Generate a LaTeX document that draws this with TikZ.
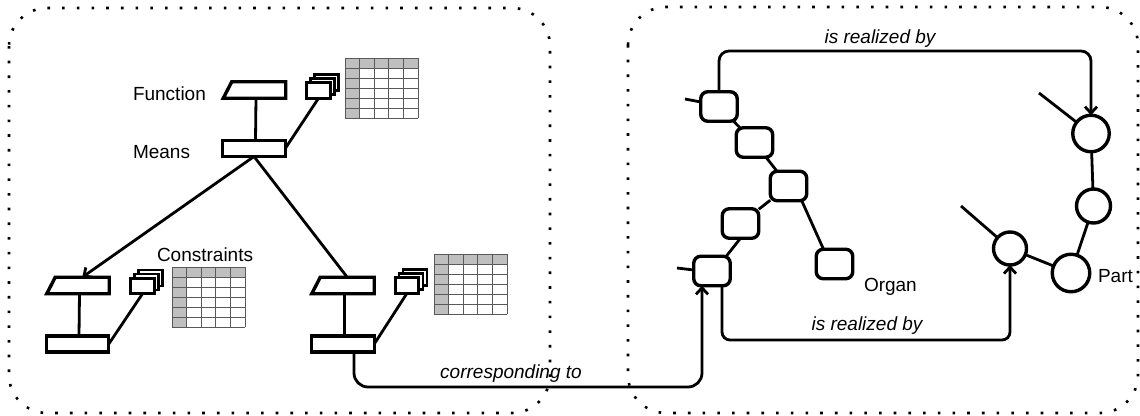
\documentclass[tikz,border=0pt]{standalone}
\usepackage{fontspec}
\setmainfont{Liberation Sans}
\usetikzlibrary{arrows.meta,calc}

\newcommand\gridtab[2]{%
 \begin{scope}[shift={(#1,#2)}]
  \fill[black!25] (0,0) rectangle (73,10);
  \fill[black!25] (0,0) rectangle (14.6,60);
  \foreach \i in {0,...,5}{\draw[tline] (\i*14.6,0) -- (\i*14.6,60);}
  \foreach \j in {0,...,6}{\draw[tline] (0,\j*10) -- (73,\j*10);}
 \end{scope}}

\newcommand\docstack[3]{%
 \draw[docb] (#2-12+8,#3-8-8) rectangle (#2+12+8,#3+8-8);
 \draw[docb] (#2-12+4,#3-8-4) rectangle (#2+12+4,#3+8-4);
 \node[docf] (#1) at (#2,#3) {};}

\newcommand\fnpara[3]{%
 \node[fnbox] (#1) at (#2,#3) {};
 \draw[shp, line join=miter] ([xshift=8.5pt]#1.north west) -- (#1.north east) -- (#1.south east) -- (#1.south west) -- cycle;}

\begin{document}
\begin{tikzpicture}[x=1pt,y=-1pt,
 every node/.style={inner sep=0pt, outer sep=0pt},
 frame/.style={draw, line width=2.6pt, dash pattern=on 2.6pt off 12.1pt, rounded corners=38pt},
 shp/.style={draw, line width=3.4pt, fill=white},
 fnbox/.style={rectangle, minimum width=62.5pt, minimum height=16.5pt},
 mnbox/.style={shp, rectangle, minimum width=62.5pt, minimum height=16pt},
 docf/.style={shp, rectangle, minimum width=23.5pt, minimum height=15.5pt},
 docb/.style={draw, line width=2.2pt, fill=white},
 orgbox/.style={shp, rectangle, rounded corners=7pt, minimum width=36.5pt, minimum height=29.5pt},
 partc/.style={shp, circle},
 conn/.style={line width=2.8pt},
 arr/.style={conn, -{Straight Barb[length=6.5pt,width=12pt]}},
 lbl/.style={font=\fontsize{19}{22}\selectfont, text=black},
 ilbl/.style={font=\fontsize{19}{22}\selectfont\itshape, text=black},
 tline/.style={draw=black!65, line width=0.9pt}]

\useasboundingbox (0,0) rectangle (1140,415);
\fill[white] (0,0) rectangle (1140,415);

% dotted frames
\draw[frame] (9,8) rectangle (550,413);
\draw[frame] (628,7) rectangle (1138,413);

% tables
\gridtab{345}{58}
\gridtab{172}{267}
\gridtab{434}{254}

% function / means trees
\fnpara{f1}{254.5}{90}
\node[mnbox] (m1) at (254,148.5) {};
\fnpara{f2}{78}{285.5}
\node[mnbox] (m2) at (77.5,344) {};
\fnpara{f3}{343}{285.5}
\node[mnbox] (m3) at (343,344) {};

\docstack{d1}{318.5}{90.5}
\docstack{d2}{142.5}{286}
\docstack{d3}{407}{285.5}

\draw[conn] ([xshift=1.5pt]f1.south) -- ([xshift=1.5pt]m1.north);
\draw[conn] (m1.east) -- (d1.south);
\draw[arr] (m1.south) -- ([xshift=4.25pt]f2.north);
\draw[conn] (m1.south) -- ([xshift=4.25pt]f3.north);
\draw[conn] ([xshift=1.5pt]f2.south) -- ([xshift=1.5pt]m2.north);
\draw[conn] (m2.east) -- (d2.south);
\draw[conn] ([xshift=1.5pt]f3.south) -- ([xshift=1.5pt]m3.north);
\draw[conn] (m3.east) -- (d3.south);

\node[lbl, anchor=base west] (lf) at (133,100) {Function};
\node[lbl, anchor=base west] (lm) at (133,158) {Means};
\node[lbl, anchor=base west] (lc) at (157,261) {Constraints};

% organs
\node[orgbox] (o1) at (719,106.5) {};
\node[orgbox] (o2) at (754.5,142.5) {};
\node[orgbox] (o3) at (788.5,186) {};
\node[orgbox] (o4) at (740.5,223.5) {};
\node[orgbox] (o5) at (712,271) {};
\node[orgbox] (o6) at (834.5,264) {};

\coordinate (s1) at (685,99);
\coordinate (s5) at (677,268);
\draw[conn] (s1) -- ([yshift=4.5pt]o1.west);
\draw[conn] (s5) -- ([yshift=1pt]o5.west);
\draw[conn] (o1) -- (o2);
\draw[conn] (o2) -- (o3);
\draw[conn] (o3) -- (o4);
\draw[conn] (o4.south) -- ([xshift=-4pt]o5.north east);
\draw[conn] ([xshift=-5pt]o3.south east) -- ([xshift=-11pt]o6.north);

\node[lbl, anchor=base west] (lo) at (864,291.5) {Organ};

% parts
\node[partc, minimum size=36.5pt] (c1) at (1091,133.5) {};
\node[partc, minimum size=34pt] (c2) at (1093.5,206) {};
\node[partc, minimum size=37.5pt] (c3) at (1071,273) {};
\node[partc, minimum size=33pt] (c4) at (1010,248.5) {};

\coordinate (sc1) at (1039,93);
\coordinate (sc4) at (961,206);
\draw[conn] (sc1) -- (c1);
\draw[conn] (sc4) -- (c4);
\draw[conn] (c1) -- (c2);
\draw[conn] (c2) -- (c3);
\draw[conn] (c4) -- (c3);

\node[lbl, anchor=base west] (lp) at (1098,282) {Part};

% relations
\coordinate (t1) at (1091,51);
\coordinate (t2) at (1010,340);
\coordinate (t3) at (702,387);
\draw[arr, rounded corners=10pt] (o1.north) |- (t1) -- (c1.north);
\draw[arr, rounded corners=8pt] ([xshift=10pt]o5.south) |- (t2) -- (c4.south);
\draw[arr, rounded corners=14pt] ([xshift=11pt]m3.south) |- (t3) -- ([xshift=-10pt]o5.south);

\node[ilbl] (lr1) at (880,39) {is realized by};
\node[ilbl] (lr2) at (867,326) {is realized by};
\node[ilbl] (lcor) at (511,374) {corresponding to};
\end{tikzpicture}
\end{document}
